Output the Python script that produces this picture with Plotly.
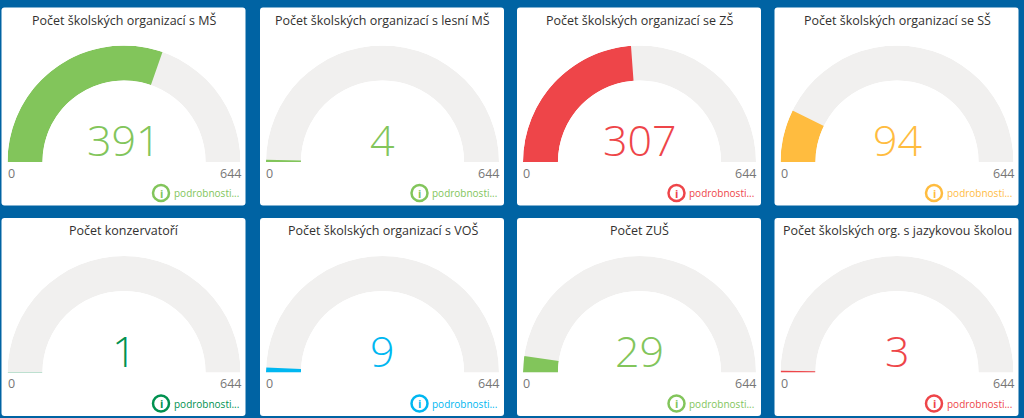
import plotly.graph_objects as go

W, H = 1024, 418
titles = ["Počet školských organizací s MŠ", "Počet školských organizací s lesní MŠ",
          "Počet školských organizací se ZŠ", "Počet školských organizací se SŠ",
          "Počet konzervatoří", "Počet školských organizací s VOŠ",
          "Počet ZUŠ", "Počet školských org. s jazykovou školou"]
values = [391, 4, 307, 94, 1, 9, 29, 3]
max_value = 644
colors = ["#82C55B", "#82C55B", "#EE4549", "#FFBC3F", "#009150", "#00B7F1", "#82C55B", "#EE4549"]
link_text = "podrobnosti..."

BG = "#0063A3"
TRACK = "#F1F0EF"
FONT = "Open Sans"
card_left = [1.5, 260, 517, 774.5]
card_w = 244
card_top = [7.5, 218]
card_h = 198

fx = lambda x: x / W
fy = lambda y: 1 - y / H

def rounded(x0, y0, x1, y1, r=3):
    X, Y = fx, fy
    return (f"M{X(x0+r)},{Y(y0)} L{X(x1-r)},{Y(y0)} Q{X(x1)},{Y(y0)} {X(x1)},{Y(y0+r)} "
            f"L{X(x1)},{Y(y1-r)} Q{X(x1)},{Y(y1)} {X(x1-r)},{Y(y1)} L{X(x0+r)},{Y(y1)} "
            f"Q{X(x0)},{Y(y1)} {X(x0)},{Y(y1-r)} L{X(x0)},{Y(y0+r)} Q{X(x0)},{Y(y0)} {X(x0+r)},{Y(y0)} Z")

fig = go.Figure()
shapes, annos = [], []
polars = {}

def label(x, y, text, size, color, xanchor="center", weight=None):
    annos.append(dict(x=fx(x), y=fy(y), xref="paper", yref="paper", text=text, showarrow=False,
                      xanchor=xanchor, yanchor="middle", align="center", borderpad=0, borderwidth=0,
                      font=dict(family=FONT, size=size, color=color, weight=weight)))

for i, (t, v, c) in enumerate(zip(titles, values, colors)):
    row, col = i // 4, i % 4
    L, T = card_left[col], card_top[row]
    shapes.append(dict(type="path", path=rounded(L, T, L + card_w, T + card_h), xref="paper", yref="paper",
                       fillcolor="white", line=dict(width=0), layer="below"))
    cx = L + 122.5
    base = T + 154.5
    R = 116.5
    name = "polar" if i == 0 else f"polar{i + 1}"
    polars[name] = dict(
        domain=dict(x=[fx(cx - R), fx(cx + R)], y=[fy(base), fy(base - R)]),
        sector=[0, 180], hole=0.7, bgcolor="rgba(0,0,0,0)",
        angularaxis=dict(direction="clockwise", rotation=180, visible=False),
        radialaxis=dict(range=[0, 1], visible=False),
        bargap=0,
    )
    deg = v / max_value * 180
    fig.add_trace(go.Barpolar(r=[1], theta=[90], width=[180], base=0, subplot=name,
                              marker=dict(color=TRACK, line=dict(width=0)), hoverinfo="skip"))
    fig.add_trace(go.Barpolar(r=[1], theta=[deg / 2], width=[deg], base=0, subplot=name,
                              marker=dict(color=c, line=dict(width=0)), hoverinfo="skip"))
    label(cx, T + 12.5, t, 12.5, "#323130")
    label(cx, T + 132, str(v), 43, c, weight=300)
    label(cx - R, T + 165.5, "0", 12.5, "#777777", "left")
    label(cx + R, T + 165.5, str(max_value), 12.5, "#777777", "right")
    # link
    ix, iy = L + 159.5, T + 185.5
    shapes.append(dict(type="circle", xref="paper", yref="paper", x0=fx(ix - 8), x1=fx(ix + 8),
                       y0=fy(iy + 8), y1=fy(iy - 8), line=dict(color=c, width=2.5), fillcolor="white"))
    label(ix, iy, "<b>i</b>", 11, c)
    label(L + 172, iy, link_text, 10, c, "left")

fig.update_layout(width=W, height=H, margin=dict(l=0, r=0, t=0, b=0), paper_bgcolor=BG,
                  shapes=shapes, annotations=annos, showlegend=False, barmode="overlay", **polars)
fig.write_html("out.html", config=dict(displayModeBar=False),
               post_script="document.body.style.margin='0';document.body.style.overflow='hidden';")
